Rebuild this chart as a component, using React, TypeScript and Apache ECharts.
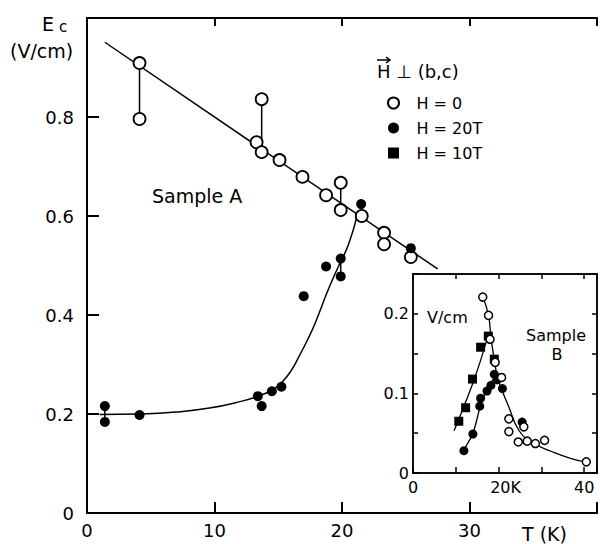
import React, { useEffect, useRef } from "react";
import * as echarts from "echarts";

// ---- Main panel (Sample A) ----
const mainXTicks = [0, 10, 20, 30];
const mainYTicks = [0, 0.2, 0.4, 0.6, 0.8];
const hollowA: [number, number][] = [
  [4.12, 0.909], [4.12, 0.796], [13.7, 0.836], [13.3, 0.749], [13.7, 0.729],
  [15.1, 0.713], [16.9, 0.679], [18.75, 0.642], [19.9, 0.667], [19.9, 0.612],
  [21.55, 0.6], [23.3, 0.566], [23.3, 0.543], [25.4, 0.517],
];
const filledA: [number, number][] = [
  [1.4, 0.216], [1.4, 0.184], [4.12, 0.198], [13.4, 0.236], [13.7, 0.216],
  [14.5, 0.246], [15.25, 0.255], [17.0, 0.438], [18.75, 0.498], [19.9, 0.514],
  [19.9, 0.478], [21.5, 0.624], [25.4, 0.535],
];
const lineA: [number, number][] = [[1.4, 0.951], [27.5, 0.493]];
const curveA: [number, number][] = [
  [1.0, 0.199], [4.1, 0.2], [7, 0.204], [9.6, 0.212], [12, 0.225], [13.4, 0.236],
  [14.5, 0.248], [15.25, 0.263], [16.0, 0.287], [16.6, 0.315], [17.3, 0.35],
  [17.9, 0.384], [18.9, 0.45], [19.7, 0.497], [20.5, 0.542], [21.2, 0.602],
];
// [T, upper, lower]
const connHollowA: [number, number, number][] = [[4.12, 0.909, 0.796], [13.7, 0.836, 0.729], [19.9, 0.667, 0.612]];
const connFilledA: [number, number, number][] = [[1.4, 0.216, 0.184], [19.9, 0.514, 0.478]];

// ---- Inset (Sample B) ----
const hollowB: [number, number][] = [
  [16.3, 0.221], [17.65, 0.198], [18.0, 0.168], [19.2, 0.139], [20.7, 0.12],
  [22.4, 0.068], [22.4, 0.052], [24.6, 0.039], [25.9, 0.058], [26.7, 0.04],
  [28.6, 0.037], [30.75, 0.041], [40.5, 0.014],
];
const filledB: [number, number][] = [
  [11.9, 0.028], [14.0, 0.049], [15.6, 0.084], [15.8, 0.094], [17.3, 0.103],
  [18.2, 0.11], [19.0, 0.124], [19.7, 0.117], [20.9, 0.106], [25.5, 0.064],
];
const squaresB: [number, number][] = [
  [10.7, 0.065], [12.3, 0.082], [13.9, 0.118], [15.8, 0.158], [17.6, 0.172], [19.0, 0.143],
];
const curveB0: [number, number][] = [
  [16.3, 0.221], [17.65, 0.198], [18.2, 0.171], [19.0, 0.142], [19.7, 0.121],
  [20.5, 0.108], [22.4, 0.083], [24.7, 0.054], [27.7, 0.039], [32.4, 0.027],
  [37, 0.018], [40.5, 0.014],
];
const curveB10: [number, number][] = [[9.6, 0.053], [12, 0.085], [14, 0.113], [16, 0.145], [17.4, 0.17]];
const curveB20: [number, number][] = [[11.6, 0.027], [14, 0.05], [15.7, 0.083], [17.4, 0.106], [19.3, 0.122]];
const insetXLabels = [0, 20, 40];
const insetYLabels = [0, 0.1, 0.2];

const FONT = "DejaVu Sans";
const BLACK = "#000";

export default function App() {
  const ref = useRef<HTMLDivElement>(null);
  useEffect(() => {
    document.body.style.margin = "0";
    const chart = echarts.init(ref.current!, null, { renderer: "svg" });
    const near = (v: number, arr: number[]) => arr.some((a) => Math.abs(a - v) < 1e-6);

    const connSeries = (conns: [number, number, number][]) =>
      conns.map(([t, a, b]) => ({
        type: "line",
        xAxisIndex: 0,
        yAxisIndex: 0,
        data: [[t, a], [t, b]],
        symbol: "none",
        lineStyle: { color: BLACK, width: 1.5 },
        silent: true,
        z: 2,
      }));

    const option: any = {
      animation: false,
      backgroundColor: "#fff",
      grid: [
        { left: 87, top: 18, width: 514, height: 495, show: false },
        { left: 413, top: 274, width: 186, height: 199, show: true, backgroundColor: "#fff", borderColor: BLACK, borderWidth: 1.5, z: 10 },
      ],
      xAxis: [
        {
          type: "value", gridIndex: 0, min: 0, max: 40, interval: 10, position: "bottom",
          axisLine: { show: true, onZero: false, lineStyle: { color: BLACK, width: 2 } },
          axisTick: { show: true, inside: true, length: 11, lineStyle: { color: BLACK, width: 2 } },
          axisLabel: {
            show: true, margin: 8, color: BLACK, fontFamily: FONT, fontSize: 18,
            formatter: (v: number) => (near(v, mainXTicks) ? String(v) : ""),
          },
          splitLine: { show: false },
        },
        {
          type: "value", gridIndex: 0, min: 0, max: 40, interval: 10, position: "top",
          axisLine: { show: true, onZero: false, lineStyle: { color: BLACK, width: 2 } },
          axisTick: { show: true, inside: true, length: 8, lineStyle: { color: BLACK, width: 2 } },
          axisLabel: { show: false },
          splitLine: { show: false },
        },
        {
          type: "value", gridIndex: 1, min: 0, max: 43, interval: 10, position: "bottom",
          axisLine: { show: true, onZero: false, lineStyle: { color: BLACK, width: 1.5 } },
          axisTick: { show: true, inside: true, length: 6, lineStyle: { color: BLACK, width: 1.5 } },
          axisLabel: {
            show: true, margin: 6, color: BLACK, fontFamily: FONT, fontSize: 16,
            formatter: (v: number) => (near(v, insetXLabels) ? (v === 20 ? "{p|}20K" : String(v)) : ""),
            rich: { p: { width: 14 } },
          },
          splitLine: { show: false },
          z: 11,
        },
        {
          type: "value", gridIndex: 1, min: 0, max: 43, interval: 10, position: "top",
          axisLine: { show: true, onZero: false, lineStyle: { color: BLACK, width: 1.5 } },
          axisTick: { show: true, inside: true, length: 5, lineStyle: { color: BLACK, width: 1.5 } },
          axisLabel: { show: false },
          splitLine: { show: false },
          z: 11,
        },
      ],
      yAxis: [
        {
          type: "value", gridIndex: 0, min: 0, max: 1.0, interval: 0.2, position: "left",
          axisLine: { show: true, onZero: false, lineStyle: { color: BLACK, width: 2 } },
          axisTick: { show: true, inside: true, length: 12, lineStyle: { color: BLACK, width: 2 } },
          axisLabel: {
            show: true, margin: 13, color: BLACK, fontFamily: FONT, fontSize: 18,
            formatter: (v: number) => (near(v, mainYTicks) ? (v === 0 ? "0" : v.toFixed(1)) : ""),
          },
          splitLine: { show: false },
        },
        {
          type: "value", gridIndex: 1, min: 0, max: 0.25, interval: 0.05, position: "left",
          axisLine: { show: true, onZero: false, lineStyle: { color: BLACK, width: 1.5 } },
          axisTick: { show: true, inside: true, length: 5, lineStyle: { color: BLACK, width: 1.5 } },
          axisLabel: {
            show: true, margin: 4, color: BLACK, fontFamily: FONT, fontSize: 16,
            formatter: (v: number) => (near(v, insetYLabels) ? (v === 0 ? "0" : v.toFixed(1)) : ""),
          },
          splitLine: { show: false },
          z: 11,
        },
        {
          type: "value", gridIndex: 1, min: 0, max: 0.25, interval: 0.05, position: "right",
          axisLine: { show: true, onZero: false, lineStyle: { color: BLACK, width: 1.5 } },
          axisTick: { show: true, inside: true, length: 5, lineStyle: { color: BLACK, width: 1.5 } },
          axisLabel: { show: false },
          splitLine: { show: false },
          z: 11,
        },
      ],
      legend: {
        left: 382, top: 90, orient: "vertical", itemGap: 9, itemWidth: 12, itemHeight: 11,
        selectedMode: false,
        textStyle: { color: BLACK, fontFamily: FONT, fontSize: 16, lineHeight: 16, padding: [0, 0, 0, 12] },
        data: [
          { name: "H = 0", icon: "circle" },
          { name: "H = 20T", icon: "circle" },
          { name: "H = 10T", icon: "path://M0,0H10V10H0Z" },
        ],
      },
      graphic: [
        { type: "text", left: 42, top: 14, style: { text: "E", font: `19px '${FONT}'`, fill: BLACK } },
        { type: "text", left: 59, top: 19, style: { text: "c", font: `15px '${FONT}'`, fill: BLACK } },
        { type: "text", left: 10, top: 41, style: { text: "(V/cm)", font: `19px '${FONT}'`, fill: BLACK } },
        { type: "text", left: 522, top: 524, style: { text: "T (K)", font: `19px '${FONT}'`, fill: BLACK } },
        { type: "text", left: 152, top: 186, style: { text: "Sample A", font: `19px '${FONT}'`, fill: BLACK } },
        { type: "text", left: 377, top: 62, style: { text: "H ⊥ (b,c)", font: `18px '${FONT}'`, fill: BLACK } },
        { type: "line", shape: { x1: 377, y1: 60, x2: 390, y2: 60 }, style: { stroke: BLACK, lineWidth: 1.5 } },
        { type: "polyline", shape: { points: [[386, 57], [390, 60], [386, 63]] }, style: { stroke: BLACK, lineWidth: 1.5, fill: "none" } },
        { type: "text", left: 427, top: 309, z: 100, style: { text: "V/cm", font: `16px '${FONT}'`, fill: BLACK } },
        { type: "text", x: 556, y: 335, z: 100, style: { text: "Sample", font: `16px '${FONT}'`, fill: BLACK, align: "center", verticalAlign: "middle" } },
        { type: "text", x: 557, y: 354, z: 100, style: { text: "B", font: `16px '${FONT}'`, fill: BLACK, align: "center", verticalAlign: "middle" } },
      ],
      series: [
        { type: "line", xAxisIndex: 0, yAxisIndex: 0, data: lineA, symbol: "none", lineStyle: { color: BLACK, width: 1.5 }, z: 2, silent: true },
        { type: "line", xAxisIndex: 0, yAxisIndex: 0, data: curveA, smooth: 0.5, symbol: "none", lineStyle: { color: BLACK, width: 1.5 }, z: 2, silent: true },
        ...connSeries(connHollowA),
        ...connSeries(connFilledA),
        {
          type: "scatter", name: "H = 0", xAxisIndex: 0, yAxisIndex: 0, data: hollowA, symbol: "circle", symbolSize: 12,
          itemStyle: { color: "#fff", borderColor: BLACK, borderWidth: 1.8, opacity: 1 }, z: 5,
        },
        {
          type: "scatter", name: "H = 20T", xAxisIndex: 0, yAxisIndex: 0, data: filledA, symbol: "circle", symbolSize: 10,
          itemStyle: { color: BLACK, opacity: 1 }, z: 5,
        },
        // inset
        { type: "line", xAxisIndex: 2, yAxisIndex: 1, data: curveB0, smooth: 0.5, symbol: "none", lineStyle: { color: BLACK, width: 1.3 }, z: 12, silent: true },
        { type: "line", xAxisIndex: 2, yAxisIndex: 1, data: curveB10, smooth: 0.3, symbol: "none", lineStyle: { color: BLACK, width: 1.3 }, z: 12, silent: true },
        { type: "line", xAxisIndex: 2, yAxisIndex: 1, data: curveB20, smooth: 0.3, symbol: "none", lineStyle: { color: BLACK, width: 1.3 }, z: 12, silent: true },
        {
          type: "scatter", name: "H = 0", xAxisIndex: 2, yAxisIndex: 1, data: hollowB, symbol: "circle", symbolSize: 8,
          itemStyle: { color: "#fff", borderColor: BLACK, borderWidth: 1.5, opacity: 1 }, z: 14,
        },
        {
          type: "scatter", name: "H = 20T", xAxisIndex: 2, yAxisIndex: 1, data: filledB, symbol: "circle", symbolSize: 9,
          itemStyle: { color: BLACK, opacity: 1 }, z: 13,
        },
        {
          type: "scatter", name: "H = 10T", xAxisIndex: 2, yAxisIndex: 1, data: squaresB, symbol: "rect", symbolSize: 9,
          itemStyle: { color: BLACK, opacity: 1 }, z: 13,
        },
      ],
    };
    chart.setOption(option);
    return () => chart.dispose();
  }, []);
  return <div ref={ref} style={{ width: 600, height: 544 }} />;
}
